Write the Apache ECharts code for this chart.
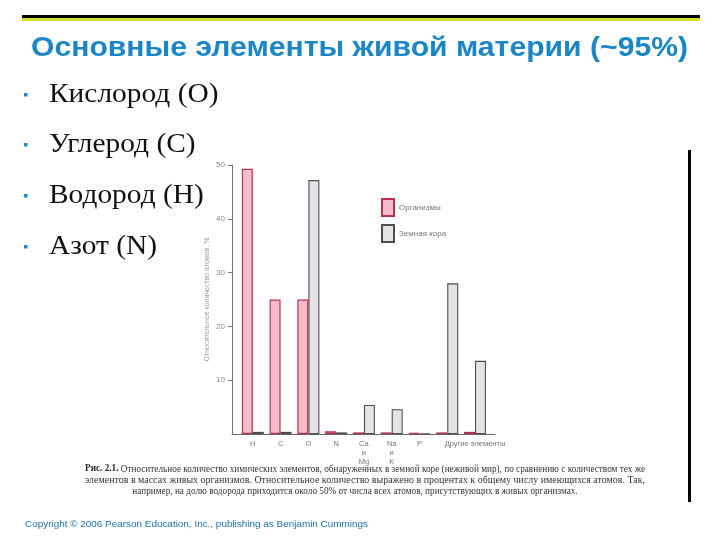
<!DOCTYPE html>
<html><head><meta charset="utf-8">
<script src="https://cdn.jsdelivr.net/npm/echarts@6/dist/echarts.min.js"></script>
<style>html,body{margin:0;padding:0;background:#fff}#c{width:720px;height:540px}</style>
</head><body><div id="c"></div>
<script>
// ---- data ----
const categories = ['H', 'C', 'O', 'N', 'Ca\nи\nMg', 'Na\nи\nK', 'P', 'Si', 'Другие элементы'];
const organisms = [49.3, 25.0, 25.0, 0.5, 0.3, 0.3, 0.2, 0.3, 0.4];
const crust = [0.4, 0.4, 47.2, 0.3, 5.4, 4.6, 0.1, 28.0, 13.6];
const yTicks = [10, 20, 30, 40, 50];
const seriesNames = ['Организмы', 'Земная кора'];
const yAxisName = 'Относительное количество атомов, %';
const titleText = 'Основные элементы живой материи (~95%)';
const bullets = ['Кислород (O)', 'Углерод (C)', 'Водород (H)', 'Азот (N)'];
const captionBold = 'Рис. 2.1. ';
const captionLines = [
  'Относительное количество химических элементов, обнаруженных в земной коре (неживой мир), по сравнению с количеством тех же',
  'элементов в массах живых организмов. Относительное количество выражено в процентах к общему числу имеющихся атомов. Так,',
  'например, на долю водорода приходится около 50% от числа всех атомов, присутствующих в живых организмах.'
];
const footer = 'Copyright © 2006 Pearson Education, Inc., publishing as Benjamin Cummings';

// ---- helpers ----
const ctx = document.createElement('canvas').getContext('2d');
function tw(text, font) { ctx.font = font; return ctx.measureText(text).width; }

const chart = echarts.init(document.getElementById('c'), null, { renderer: 'canvas' });

const graphics = [];
// top rules
graphics.push({ type: 'rect', shape: { x: 22, y: 15, width: 678, height: 3 }, style: { fill: '#000' }, silent: true });
graphics.push({ type: 'rect', shape: { x: 22, y: 18, width: 678, height: 3 }, style: { fill: '#d4dc2c' }, silent: true });
// title
const titleFont = 'bold 27px "Liberation Sans", Arial, sans-serif';
graphics.push({ type: 'text', x: 31, y: 49, scaleX: 657 / tw(titleText, titleFont),
  style: { text: titleText, font: titleFont, fill: '#1a86c8', textAlign: 'left', textVerticalAlign: 'middle' } });
// bullets
const bulletFont = '28px "Liberation Serif", "Times New Roman", serif';
const bulletMid = [95, 145, 196, 247];
const bulletWidths = [173, 160, 170, 115];
bullets.forEach((b, i) => {
  graphics.push({ type: 'rect', shape: { x: 24, y: bulletMid[i] - 2, width: 3.5, height: 3.5 }, style: { fill: '#1a8ad0' } });
  const w = tw(b, bulletFont);
  graphics.push({ type: 'text', x: 49, y: bulletMid[i], scaleX: Math.min(1.05, Math.max(0.9, bulletWidths[i] / w)),
    style: { text: b, font: bulletFont, fill: '#111', textAlign: 'left', textVerticalAlign: 'middle' } });
});
// right vertical rule
graphics.push({ type: 'rect', shape: { x: 688, y: 150, width: 3, height: 352 }, style: { fill: '#000' } });
// caption
const capFont = '9.5px "Liberation Serif", "Times New Roman", serif';
const capBoldFont = 'bold 9.5px "Liberation Serif", "Times New Roman", serif';
const capCenter = 365, capWidth = 560;
{
  const wb = tw(captionBold, capBoldFont), wr = tw(captionLines[0], capFont);
  const s = capWidth / (wb + wr);
  const x0 = capCenter - capWidth / 2;
  graphics.push({ type: 'text', x: x0, y: 469, scaleX: s, style: { text: captionBold, font: capBoldFont, fill: '#222', textAlign: 'left', textVerticalAlign: 'middle' } });
  graphics.push({ type: 'text', x: x0 + wb * s, y: 469, scaleX: s, style: { text: captionLines[0], font: capFont, fill: '#333', textAlign: 'left', textVerticalAlign: 'middle' } });
  const w2 = tw(captionLines[1], capFont);
  graphics.push({ type: 'text', x: capCenter, y: 480, scaleX: capWidth / w2, style: { text: captionLines[1], font: capFont, fill: '#333', textAlign: 'center', textVerticalAlign: 'middle' } });
  graphics.push({ type: 'text', x: capCenter - 10, y: 491, scaleX: s, style: { text: captionLines[2], font: capFont, fill: '#333', textAlign: 'center', textVerticalAlign: 'middle' } });
}
// footer
const footFont = '9.5px "Liberation Sans", Arial, sans-serif';
graphics.push({ type: 'text', x: 25, y: 524, scaleX: 343 / tw(footer, footFont),
  style: { text: footer, font: footFont, fill: '#1d6fae', textAlign: 'left', textVerticalAlign: 'middle' } });

const xs = categories.map((c, i) => i + 1);
function catLabel(v) {
  const r = Math.round(v);
  if (Math.abs(v - r) > 1e-6 || r < 1 || r > categories.length) return '';
  return categories[r - 1];
}

chart.setOption({
  animation: false,
  backgroundColor: '#fff',
  textStyle: { fontFamily: '"Liberation Sans", Arial, sans-serif' },
  graphic: graphics,
  legend: {
    left: 381, top: 198, orient: 'vertical', itemWidth: 12, itemHeight: 17, itemGap: 7, padding: 0,
    icon: 'rect', selectedMode: false, data: seriesNames,
    textStyle: { fontSize: 8, color: '#777' }
  },
  grid: { left: 232, right: 225, top: 165, bottom: 106, containLabel: false },
  xAxis: {
    type: 'value', min: 0.25, max: 9.72, splitNumber: 10,
    axisLine: { show: true, lineStyle: { color: '#666', width: 1 } },
    axisTick: { show: false },
    splitLine: { show: false },
    axisLabel: {
      customValues: xs, formatter: catLabel, hideOverlap: false, showMinLabel: true, showMaxLabel: true,
      fontSize: 7.5, color: '#777', margin: 5, lineHeight: 9, verticalAlign: 'top'
    }
  },
  yAxis: {
    type: 'value', min: 0, max: 50, interval: 10,
    name: yAxisName, nameLocation: 'middle', nameGap: 21,
    nameTextStyle: { fontSize: 7, color: '#9a9a9a' },
    axisLine: { show: true, lineStyle: { color: '#777', width: 1 } },
    axisTick: { show: true, inside: false, length: 4, customValues: yTicks, lineStyle: { color: '#777' } },
    axisLabel: { customValues: yTicks, fontSize: 8, color: '#888', margin: 7, formatter: v => (v === 0 ? '' : String(v)) },
    splitLine: { show: false }
  },
  series: [
    {
      name: seriesNames[0], type: 'bar', barWidth: 11, barGap: '0%',
      data: organisms.map((v, i) => [xs[i], v]),
      itemStyle: { color: '#f5bccb', borderColor: '#b8304e', borderWidth: 1.2 }
    },
    {
      name: seriesNames[1], type: 'bar', barWidth: 11, barGap: '0%',
      data: crust.map((v, i) => [xs[i], v]),
      itemStyle: { color: '#e3e3e7', borderColor: '#4e4e4e', borderWidth: 1.1 }
    }
  ]
});
</script>
</body></html>
